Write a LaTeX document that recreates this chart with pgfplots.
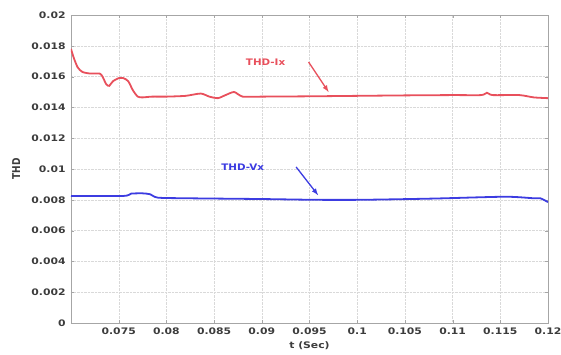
\documentclass[border=0pt]{standalone}
\usepackage{pgfplots}
\pgfplotsset{compat=1.18}
\usepackage{fontspec}
\setmainfont{DejaVu Sans}
\definecolor{redline}{RGB}{232,80,92}
\definecolor{blueline}{RGB}{60,60,225}
\definecolor{tickgray}{RGB}{60,60,60}
\begin{document}
\begin{tikzpicture}
\useasboundingbox (-71pt,-31pt) rectangle (490pt,323pt);
\begin{axis}[
  scale only axis, width=477pt, height=308pt,
  xmin=0.07, xmax=0.12, ymin=0, ymax=0.02,
  scaled ticks=false,
  xtick={0.075,0.08,0.085,0.09,0.095,0.1,0.105,0.11,0.115,0.12},
  xticklabels={0.075,0.08,0.085,0.09,0.095,0.1,0.105,0.11,0.115,0.12},
  ytick={0,0.002,0.004,0.006,0.008,0.01,0.012,0.014,0.016,0.018,0.02},
  yticklabels={0,0.002,0.004,0.006,0.008,0.01,0.012,0.014,0.016,0.018,0.02},
  grid=major,
  grid style={densely dotted, gray!30},
  axis line style={gray!70},
  tick style={gray!70},
  tick align=inside,
  major tick length=3pt,
  ticklabel style={font=\fontsize{9}{10}\selectfont\bfseries, text=tickgray, xscale=1.2},
  yticklabel style={xshift=-1pt},
  xticklabel style={yshift=-1pt},
  label style={font=\fontsize{9}{10}\selectfont\bfseries, text=tickgray},
  xlabel={t (Sec)},
  ylabel={THD},
  xlabel style={at={(axis description cs:0.5,-0.075)}, anchor=center, xscale=1.2},
  ylabel style={at={(axis description cs:-0.115,0.5)}, anchor=center, yscale=1.2},
]
\addplot[redline, line width=1.8pt, smooth, tension=0.4] coordinates {
(0.0700,0.0178) (0.0703,0.0172) (0.0707,0.0166) (0.0712,0.0163) (0.0720,0.0162)
(0.0730,0.0162) (0.0733,0.0160) (0.0737,0.0155) (0.0740,0.0154) (0.0744,0.0157)
(0.0750,0.0159) (0.0755,0.0159) (0.0760,0.0157) (0.0765,0.0151) (0.0770,0.0147)
(0.0775,0.01465) (0.0785,0.0147) (0.0800,0.0147) (0.0820,0.01475) (0.0836,0.0149)
(0.0845,0.0147) (0.0854,0.0146) (0.0862,0.0148) (0.0871,0.0150) (0.0880,0.0147)
(0.0900,0.0147) (0.0950,0.01472) (0.1000,0.01475) (0.1050,0.01478) (0.1100,0.0148)
(0.1130,0.0148) (0.1136,0.01495) (0.1142,0.0148) (0.1170,0.0148) (0.1185,0.01465)
(0.1200,0.0146)
};
\addplot[blueline, line width=1.8pt, smooth, tension=0.4] coordinates {
(0.0700,0.00825) (0.0755,0.00825) (0.0763,0.0084) (0.0775,0.00842) (0.0783,0.00836)
(0.0791,0.00814) (0.0820,0.0081) (0.0900,0.00805) (0.0955,0.0080) (0.1005,0.0080)
(0.1080,0.00808) (0.1155,0.0082) (0.1185,0.0081) (0.1192,0.0081) (0.1200,0.00785)
};
\node[text=redline, font=\fontsize{9}{10}\selectfont\bfseries, xscale=1.15] at (axis cs:0.0904,0.01695) {THD-Ix};
\draw[-latex, redline, line width=1.3pt] (axis cs:0.0949,0.01695) -- (axis cs:0.0970,0.0150);
\node[text=blueline, font=\fontsize{9}{10}\selectfont\bfseries, xscale=1.15] at (axis cs:0.0880,0.01013) {THD-Vx};
\draw[-latex, blueline, line width=1.3pt] (axis cs:0.0936,0.01013) -- (axis cs:0.0959,0.0083);
\end{axis}
\end{tikzpicture}
\end{document}
